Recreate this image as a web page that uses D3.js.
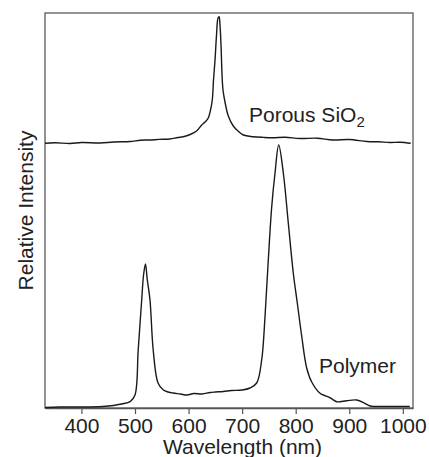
<!DOCTYPE html>
<html>
<head>
<meta charset="utf-8">
<script src="https://cdn.jsdelivr.net/npm/d3@7"></script>
<style>
  html, body { margin: 0; padding: 0; background: #fff; }
  svg { display: block; }
  text { font-family: "Liberation Sans", Arial, Helvetica, sans-serif; fill: #222; }
</style>
</head>
<body>
<svg id="chart" width="429" height="457"></svg>
<script>
// Wavelength (nm) samples and relative intensities (arbitrary units, curves stacked)
const sioWavelength = [332, 350, 379, 400, 435, 460, 491, 510, 528, 545, 565, 580, 590, 603, 615, 624.5, 630.7, 636.8, 641, 644.3, 646.6, 649.4, 652.2, 655, 657, 658.7, 660.6, 662.5, 664.3, 668, 674.2, 683.5, 692.3, 702.2, 720.3, 740, 757.6, 780, 808, 840, 869.6, 900, 933, 955, 976, 995, 1014.7];
const sioIntensity  = [264.7, 265.3, 264.5, 265.5, 265, 266, 266.5, 267.8, 268, 268.6, 269, 270.5, 271.3, 273.5, 277, 283, 286, 290, 298, 308, 328, 348, 373, 390, 391.3, 383, 363, 333, 318, 306, 292, 282, 277, 273, 271.3, 270.6, 270.3, 270.8, 269.5, 269.8, 268, 268.5, 266.5, 266.2, 265.5, 265.8, 264.7];

const polyWavelength = [332, 360, 400, 440, 460, 475, 491, 500, 506, 512.5, 516, 519.5, 523, 528, 534, 543, 553, 562, 571, 585, 597, 610, 625, 640, 650, 665, 680, 700, 714.7, 727.2, 736.5, 742.7, 748, 755.2, 761.4, 768.3, 776.9, 786.2, 795.5, 803, 811.2, 820.5, 829.9, 845.4, 851.6, 865, 876.6, 895, 914, 929, 939, 970, 1013];
const polyIntensity  = [0.5, 1, 1, 1.5, 2.5, 4, 6.3, 13, 58, 108, 133, 144, 128, 108, 58, 25, 18, 16, 15, 14, 13, 14.5, 14, 15.5, 16, 16.5, 17.5, 18, 20, 25, 48, 91, 140, 201, 235, 263, 235, 185, 135, 105, 72, 40, 26, 14.7, 13, 10, 6.3, 7.3, 8, 4.7, 2, 1.5, 1.5];

const tickValues = [400, 500, 600, 700, 800, 900, 1000];
const xLabel = "Wavelength (nm)";
const yLabel = "Relative Intensity";
const seriesLabels = ["Porous SiO", "Polymer"];

const svg = d3.select("#chart");
const m = { left: 45, right: 413, top: 13, bottom: 408 };

const x = d3.scaleLinear().domain([332, 1019]).range([m.left, m.right]);
const y = d3.scaleLinear().domain([0, 395]).range([m.bottom, m.top]);

const line = d3.line().x(d => x(d[0])).y(d => y(d[1])).curve(d3.curveCatmullRom.alpha(0.5));

const sio = d3.zip(sioWavelength, sioIntensity);
const poly = d3.zip(polyWavelength, polyIntensity);

// frame
svg.append("rect")
  .attr("x", m.left).attr("y", m.top)
  .attr("width", m.right - m.left).attr("height", m.bottom - m.top)
  .attr("fill", "none").attr("stroke", "#666").attr("stroke-width", 1.4);

// x axis
const xAxis = svg.append("g")
  .attr("transform", `translate(0,${m.bottom})`)
  .call(d3.axisBottom(x).tickValues(tickValues).tickSize(6).tickSizeOuter(0).tickPadding(6).tickFormat(d3.format("d")));
xAxis.select(".domain").attr("stroke", "#555").attr("stroke-width", 1.4);
xAxis.selectAll(".tick line").attr("stroke", "#555").attr("stroke-width", 1.2);
xAxis.selectAll(".tick text")
  .attr("font-size", 21)
  .attr("font-family", "Liberation Sans, Arial, sans-serif")
  .attr("fill", "#222")
  .attr("dy", null).attr("y", 24.5);

// lines
svg.append("path").datum(sio).attr("d", line)
  .attr("fill", "none").attr("stroke", "#1a1a1a").attr("stroke-width", 1.4).attr("stroke-linejoin", "round");
svg.append("path").datum(poly).attr("d", line)
  .attr("fill", "none").attr("stroke", "#1a1a1a").attr("stroke-width", 1.4).attr("stroke-linejoin", "round");

// series labels
const t1 = svg.append("text").attr("x", 249).attr("y", 121.7).attr("font-size", 21).text(seriesLabels[0]);
t1.append("tspan").attr("font-size", 15).attr("dy", 5).text("2");
svg.append("text").attr("x", 319).attr("y", 373).attr("font-size", 21).text(seriesLabels[1]);

// axis titles
svg.append("text").attr("x", 242.5).attr("y", 454).attr("text-anchor", "middle").attr("font-size", 21).text(xLabel);
svg.append("text")
  .attr("transform", `translate(33,${(m.top + m.bottom) / 2}) rotate(-90)`)
  .attr("text-anchor", "middle").attr("font-size", 21).text(yLabel);
</script>
</body>
</html>
